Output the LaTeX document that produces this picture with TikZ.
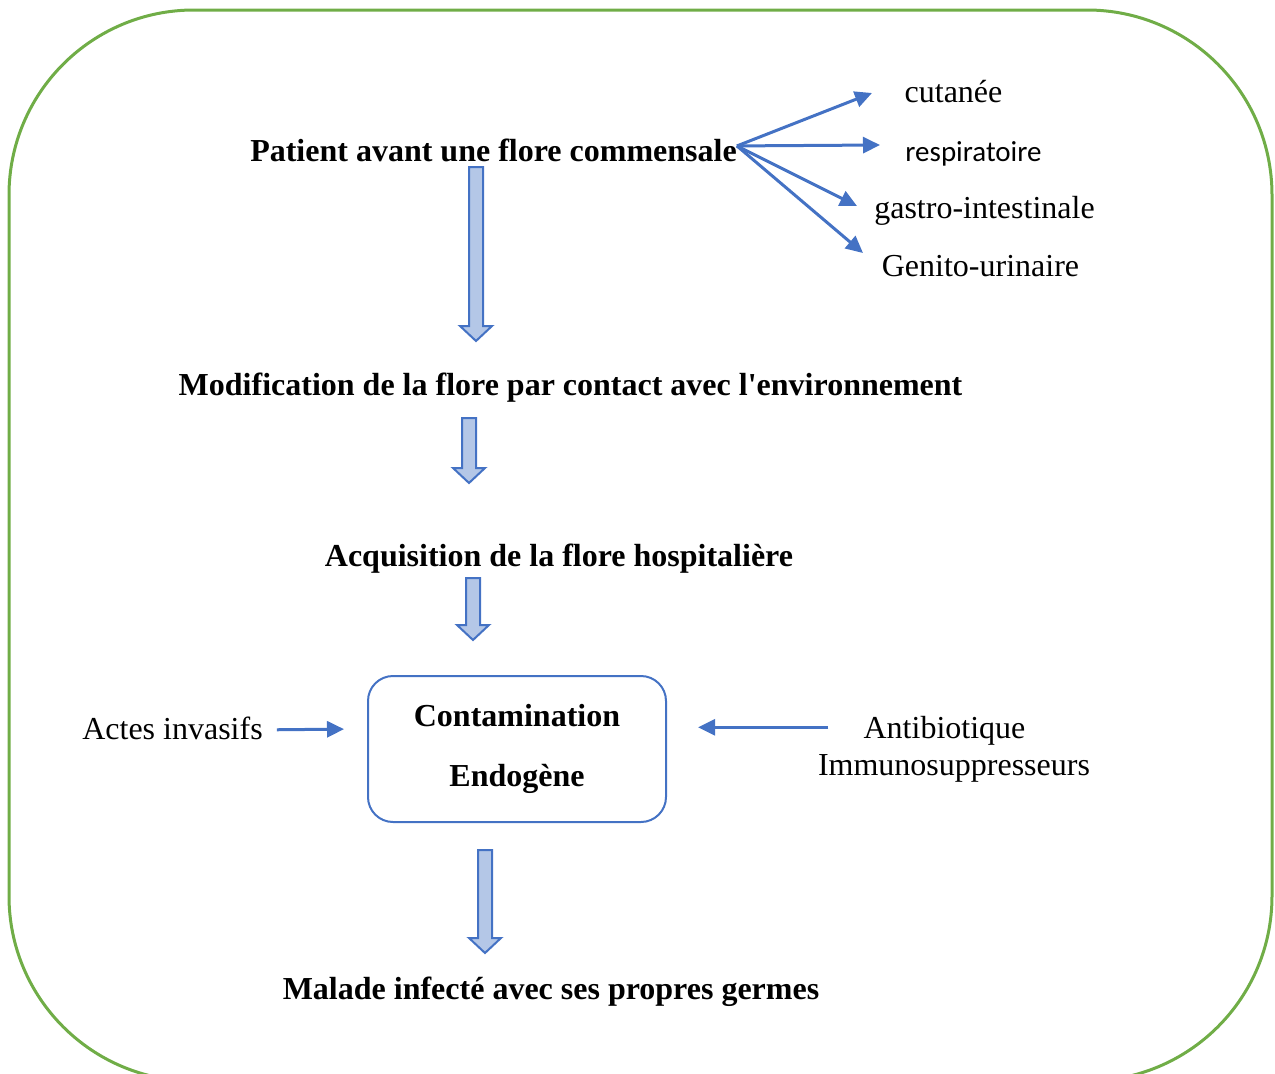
\documentclass[tikz,border=0pt]{standalone}
\usepackage{fontspec}
\setmainfont{Liberation Serif}
% same face without the TeX quote mapping, for a straight apostrophe
\newfontfamily\rawserif{Liberation Serif}
\newfontfamily\calib{Carlito}
\usetikzlibrary{arrows.meta,calc}
\definecolor{framegreen}{HTML}{70AD47}
\definecolor{accent}{HTML}{4472C4}
\definecolor{lightfill}{HTML}{B4C7E7}
\tikzset{
  lbl/.style={inner sep=0pt, anchor=base, font=\fontsize{32}{38}\selectfont},
  blbl/.style={inner sep=0pt, anchor=base, font=\fontsize{32}{38}\selectfont\bfseries},
  sanslbl/.style={inner sep=0pt, anchor=base, font=\fontsize{29}{35}\selectfont\calib},
  thinarrow/.style={draw=accent, line width=3pt, -{Triangle[length=17pt,width=16pt]}},
  blockarr/.style={draw=accent, fill=lightfill, line width=2pt, line join=miter},
  mainbox/.style={draw=accent, line width=2pt, rounded corners=25pt, minimum width=298pt, minimum height=146pt, inner sep=0pt},
}
% hollow block arrow pointing down, from a top point to a tip point
\newcommand\blockarrow[2]{%
  \draw[blockarr] let \p1=(#1), \p2=(#2) in
    (\x1-7pt,\y1) -- (\x1+7pt,\y1) -- (\x1+7pt,\y2+15pt) -- (\x1+16pt,\y2+15pt)
    -- (\x1,\y2) -- (\x1-16pt,\y2+15pt) -- (\x1-7pt,\y2+15pt) -- cycle;}
\begin{document}
\begin{tikzpicture}[x=1pt,y=-1pt]
\clip (0,0) rectangle (1275,1074);
% outer frame
\draw[framegreen, line width=3pt, rounded corners=185pt] (9,10) rectangle (1272,1081);

% main chain
\node[blbl] (pat) at (493.5,161) {Patient avant une flore commensale};
\node[blbl] (mod) at (570.5,395) {Modification de la flore par contact avec l{\rawserif\bfseries '}environnement};
\node[blbl] (acq) at (559,566) {Acquisition de la flore hospitalière};
\node[mainbox] (cont) at (517,749) {};
\node[blbl] (c1) at (517,726) {Contamination};
\node[blbl] (c2) at (517,786) {Endogène};
\node[blbl] (mal) at (551,999) {Malade infecté avec ses propres germes};

% flora types
\node[lbl] (cut) at (953.5,102) {cutanée};
\node[sanslbl] (resp) at (973.5,161) {respiratoire};
\node[lbl] (gas) at (984.5,218) {gastro-intestinale};
\node[lbl] (gen) at (980.5,276) {Genito-urinaire};

% side factors
\node[lbl] (act) at (172.5,739) {Actes invasifs};
\node[lbl] (anti) at (944.5,738) {Antibiotique};
\node[lbl] (imm) at (954,775) {Immunosuppresseurs};

% arrow tips of the fan
\coordinate (fan) at ([yshift=4pt]pat.east);
\coordinate (tcut) at (872,93);
\coordinate (tresp) at (880,145);
\coordinate (tgas) at (857,206);
\coordinate (tgen) at (863,253);
\draw[thinarrow] (fan) -- (tcut);
\draw[thinarrow] (fan) -- (tresp);
\draw[thinarrow] (fan) -- (tgas);
\draw[thinarrow] (fan) -- (tgen);

\draw[thinarrow, shorten <=14pt, shorten >=23pt] ([yshift=-2pt]act.east) -- ([yshift=-1pt]act.east -| cont.west);
\draw[thinarrow, shorten <=35pt, shorten >=31pt] ([yshift=3pt]anti.west) -- ([yshift=3pt]anti.west -| cont.east);

% block arrows between the stages
\coordinate (b1s) at (476,167);  \coordinate (b1e) at (476,341);
\coordinate (b2s) at (469,418);  \coordinate (b2e) at (469,483);
\coordinate (b3s) at (473,578);  \coordinate (b3e) at (473,640);
\coordinate (b4s) at (485,850);  \coordinate (b4e) at (485,953);
\blockarrow{b1s}{b1e}
\blockarrow{b2s}{b2e}
\blockarrow{b3s}{b3e}
\blockarrow{b4s}{b4e}
\end{tikzpicture}
\end{document}
